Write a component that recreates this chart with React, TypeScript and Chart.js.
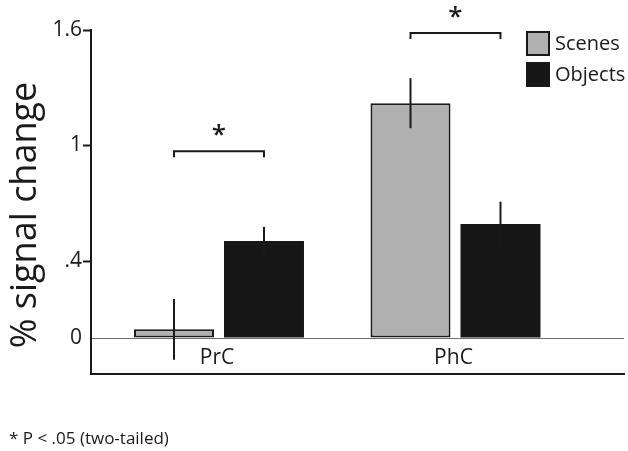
import { useEffect, useRef } from "react";
import { Chart, registerables } from "chart.js";

Chart.register(...registerables);

const categories = ["PrC", "PhC"];
const seriesNames = ["Scenes", "Objects"];
const scenesValues = [0.045, 1.22];
const objectsValues = [0.504, 0.592];
const scenesErrors = [0.158, 0.13];
const objectsErrors = [0.073, 0.116];
const yTickValues = [0, 0.4, 1, 1.6];
const yTickLabels = ["0", ".4", "1", "1.6"];
const bracketLevels = [0.97, 1.585];
const significanceMarks = ["*", "*"];
const yTitle = "% signal change";
const footnote = "* P < .05 (two-tailed)";

const FONT = "'Open Sans', 'DejaVu Sans', sans-serif";
const TEXT = "#1a1a1a";
const GRAY = "#b0b0b0";
const BLACK = "#171717";

const overlayPlugin = {
  id: "overlay",
  afterDatasetsDraw(chart: any) {
    const { ctx, chartArea, scales } = chart;
    const x = scales.x;
    const y = scales.y;
    const values = [scenesValues, objectsValues];
    const errors = [scenesErrors, objectsErrors];
    ctx.save();
    // error bars
    ctx.strokeStyle = TEXT;
    ctx.lineWidth = 2;
    chart.data.datasets.forEach((_ds: any, di: number) => {
      const meta = chart.getDatasetMeta(di);
      meta.data.forEach((bar: any, i: number) => {
        const v = values[di][i];
        const e = errors[di][i];
        const yt = y.getPixelForValue(v + e);
        const yb = y.getPixelForValue(v - e);
        ctx.beginPath();
        ctx.moveTo(bar.x, yt);
        ctx.lineTo(bar.x, yb);
        ctx.stroke();
      });
    });
    // significance brackets
    const m0 = chart.getDatasetMeta(0);
    const m1 = chart.getDatasetMeta(1);
    categories.forEach((_c, i) => {
      const x0 = m0.data[i].x;
      const x1 = m1.data[i].x;
      const by = y.getPixelForValue(bracketLevels[i]);
      ctx.beginPath();
      ctx.moveTo(x0, by + 6);
      ctx.lineTo(x0, by);
      ctx.lineTo(x1, by);
      ctx.lineTo(x1, by + 6);
      ctx.stroke();
      ctx.fillStyle = TEXT;
      ctx.font = `600 26px ${FONT}`;
      ctx.textAlign = "center";
      ctx.textBaseline = "alphabetic";
      ctx.fillText(significanceMarks[i], (x0 + x1) / 2, by - 8);
    });
    // category labels (inside plot, above the bottom axis)
    ctx.fillStyle = TEXT;
    ctx.font = `21px ${FONT}`;
    ctx.textAlign = "center";
    ctx.textBaseline = "middle";
    categories.forEach((c, i) => {
      ctx.fillText(c, x.getPixelForValue(i) - 2, chartArea.bottom - 16);
    });
    // legend
    const lx = chartArea.right - 98;
    const ly = chartArea.top + 1;
    chart.data.datasets.forEach((ds: any, di: number) => {
      const by = ly + di * 31;
      ctx.fillStyle = ds.backgroundColor;
      ctx.fillRect(lx, by, 24, 25);
      if (ds.borderWidth) {
        ctx.strokeStyle = ds.borderColor;
        ctx.lineWidth = 2;
        ctx.strokeRect(lx + 1, by + 1, 22, 23);
      }
      ctx.fillStyle = TEXT;
      ctx.font = `20px ${FONT}`;
      ctx.textAlign = "left";
      ctx.textBaseline = "middle";
      ctx.fillText(ds.label, lx + 29, by + 13);
    });
    // y title
    ctx.save();
    ctx.translate(26, 215);
    ctx.rotate(-Math.PI / 2);
    ctx.font = `36px ${FONT}`;
    ctx.textAlign = "center";
    ctx.textBaseline = "middle";
    ctx.fillStyle = TEXT;
    ctx.fillText(yTitle, 0, 0);
    ctx.restore();
    // footnote
    ctx.font = `17px ${FONT}`;
    ctx.textAlign = "left";
    ctx.textBaseline = "alphabetic";
    ctx.fillStyle = TEXT;
    ctx.fillText(footnote, 9, 444);
    ctx.restore();
  },
};

export default function App() {
  const ref = useRef<HTMLCanvasElement | null>(null);
  useEffect(() => {
    if (!ref.current) return;
    Chart.defaults.font.family = FONT;
    const chart = new Chart(ref.current, {
      type: "bar",
      data: {
        datasets: [
          {
            label: seriesNames[0],
            data: categories.map((_c, i) => ({ x: i, y: scenesValues[i] })),
            backgroundColor: GRAY,
            borderColor: TEXT,
            borderWidth: 2,
            borderSkipped: false,
          },
          {
            label: seriesNames[1],
            data: categories.map((_c, i) => ({ x: i, y: objectsValues[i] })),
            backgroundColor: BLACK,
            borderWidth: 0,
            borderSkipped: false,
          },
        ],
      } as any,
      options: {
        responsive: false,
        animation: false,
        events: [],
        categoryPercentage: 0.761,
        barPercentage: 0.889,
        layout: { padding: { top: 30, right: 4, left: 0, bottom: 0 } },
        plugins: { legend: { display: false }, tooltip: { enabled: false } },
        scales: {
          x: {
            type: "linear",
            min: -0.5412,
            max: 1.7125,
            offset: false,
            afterBuildTicks: (s: any) => {
              s.ticks = categories.map((_c, i) => ({ value: i }));
            },
            afterFit: (s: any) => {
              s.height = 77;
            },
            ticks: { display: false },
            grid: { display: false },
            border: { display: true, color: TEXT, width: 2 },
          },
          y: {
            type: "linear",
            min: -0.187,
            max: 1.6,
            afterBuildTicks: (s: any) => {
              s.ticks = yTickValues.map((v) => ({ value: v }));
            },
            afterFit: (s: any) => {
              s.width = 91;
            },
            ticks: {
              callback: (v: any) => {
                const k = yTickValues.indexOf(Number(v));
                return k >= 0 ? yTickLabels[k] : "";
              },
              font: { family: FONT, size: 21 },
              color: TEXT,
              padding: 1,
            },
            grid: {
              drawOnChartArea: true,
              color: (c: any) => (c.tick && c.tick.value === 0 ? "#6e6e6e" : "rgba(0,0,0,0)"),
              tickColor: (c: any) => (c.tick && c.tick.value === 0 ? "rgba(0,0,0,0)" : TEXT),
              tickLength: 8,
              tickWidth: 2,
              lineWidth: 1,
            },
            border: { display: true, color: TEXT, width: 2 },
          },
        },
      } as any,
      plugins: [overlayPlugin],
    });
    return () => chart.destroy();
  }, []);
  return (
    <div style={{ position: "fixed", left: 0, top: 0, width: 628, height: 451, background: "#fff" }}>
      <canvas ref={ref} width={628} height={451} style={{ display: "block", width: 628, height: 451 }} />
    </div>
  );
}
